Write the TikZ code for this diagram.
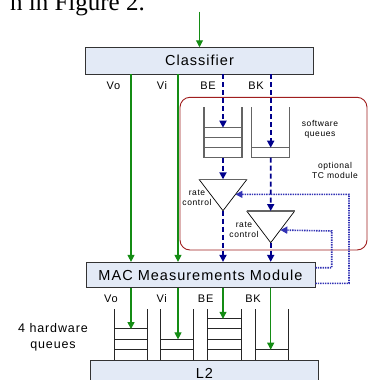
\documentclass[tikz,border=0pt]{standalone}
\usepackage{fontspec}
\newfontfamily\lblfont[LetterSpace=7]{Liberation Sans}
\newfontfamily\paperfont{Liberation Serif}
\usetikzlibrary{arrows.meta, calc}

\definecolor{boxblue}{RGB}{227,234,246}
\definecolor{flowgreen}{RGB}{20,140,20}
\definecolor{tcnavy}{RGB}{0,0,140}
\definecolor{fbblue}{RGB}{50,50,180}
\definecolor{tcred}{RGB}{160,30,30}
\definecolor{qgray}{RGB}{100,100,100}

\begin{document}
\begin{tikzpicture}[
    x=1pt, y=-1pt, % one unit = one pixel, y grows downwards
    >={Triangle[length=7pt,width=7pt]}, % Set default arrow tip style
    block/.style={draw=black!80, fill=boxblue, line width=0.8pt, inner sep=0pt, font=\lblfont\fontsize{14.5}{16}\selectfont}, % Style for the wide boxes
    green flow/.style={->, flowgreen, line width=1.1pt}, % Style for the plain flows
    tc flow/.style={->, tcnavy, line width=1.8pt, dash pattern=on 5pt off 3pt}, % Style for the shaped flows
    feedback/.style={->, fbblue, line width=1.6pt, dash pattern=on 1.4pt off 1pt}, % Style for the feedback lines
    queue/.style={qgray, line width=1.3pt}, % Style for software queue walls and slots
    hwqueue/.style={black!85, line width=0.9pt}, % Style for hardware queue walls and slots
    tag/.style={font=\lblfont\fontsize{11}{13}\selectfont}, % Style for the Vo/Vi/BE/BK labels
    note/.style={font=\lblfont\fontsize{8.5}{10}\selectfont, align=center} % Style for the small notes
]
    \useasboundingbox (0,0) rectangle (368,380);

    % Text of the page above the figure
    \node[font=\paperfont\fontsize{25}{28}\selectfont, anchor=base east, inner sep=0pt] (pagetext) at (145,10.7) {n in Figure 2.};

    % Boxes
    \node[block, minimum width=227.6pt, minimum height=26.3pt] (cls) at (199.5,60.8) {Classifier};
    \node[block, minimum width=229pt, minimum height=25.4pt] (mac) at (200.5,275) {MAC Measurements Module};
    \node[block, minimum width=227.6pt, minimum height=26pt] (l2) at (204.5,373) {L2};

    % Column positions
    \coordinate (in) at (199.5,11.7);
    \coordinate (xvo) at (131,0);
    \coordinate (xvi) at (178,0);
    \coordinate (xbe) at (223,0);
    \coordinate (xbk) at (270.7,0);

    % Optional TC module frame
    \draw[tcred, line width=0.9pt, rounded corners=10pt] (180,97.3) rectangle (367,250);
    \node[note] (swnote) at (320,129.5) {software\\queues};
    \node[note] (tcnote) at (335,170) {optional\\TC module};

    % Software queues
    \foreach \cx/\n in {223/4, 270.7/2} {
        \draw[queue] (\cx-19,107.3) -- (\cx-19,157.7) (\cx+19,107.3) -- (\cx+19,157.7);
        \foreach \k in {1,...,\n} \draw[queue] (\cx-19,167.7-10*\k) -- (\cx+19,167.7-10*\k);
    }
    \coordinate (sqbe) at (223,127.7);   % top slot of BE queue
    \coordinate (sqbeb) at (223,157.7);  % bottom of BE queue
    \coordinate (sqbk) at (270.7,147.7); % top slot of BK queue
    \coordinate (sqbkb) at (270.7,157.7);

    % Rate control triangles
    \coordinate (t1l) at (199,179.3); \coordinate (t1r) at (247,179.3); \coordinate (t1a) at (223,210.7);
    \coordinate (t2l) at (246.7,211); \coordinate (t2r) at (294.7,211); \coordinate (t2a) at (270.7,242.7);
    \draw[line width=0.7pt] (t1r) -- (t1a) -- (t1l);
    \draw[queue] (t1l) -- (t1r);
    \draw[line width=0.7pt] (t2r) -- (t2a) -- (t2l);
    \draw[queue] (t2l) -- (t2r);
    \coordinate (t1e) at ($(t1r)!0.48!(t1a)$); % feedback entry on triangle 1
    \coordinate (t2e) at ($(t2r)!0.6!(t2a)$);  % feedback entry on triangle 2
    \node[note] (rc1) at (197,197.5) {rate\\control};
    \node[note] (rc2) at (244,230) {rate\\control};

    % Labels under the classifier
    \node[tag] (vo1) at (113.5,85.3) {Vo};
    \node[tag] (vi1) at (162,85.3) {Vi};
    \node[tag] (be1) at (208,85.3) {BE};
    \node[tag] (bk1) at (256,85.3) {BK};

    % Flows
    \draw[green flow] (in) -- (cls.north);
    \draw[green flow] (cls.south -| xvo) -- (mac.north -| xvo);
    \draw[green flow] (cls.south -| xvi) -- (mac.north -| xvi);
    \draw[tc flow] (cls.south -| xbe) -- (sqbe);
    \draw[tc flow] (cls.south -| xbk) -- (sqbk);
    \draw[tc flow] (sqbeb) -- ($(t1l)!0.5!(t1r)$);
    \draw[tc flow] (sqbkb) -- ($(t2l)!0.5!(t2r)$);
    \draw[tc flow] (t1a) -- (mac.north -| t1a);
    \draw[tc flow] (t2a) -- (mac.north -| t2a);

    % Feedback from the measurements module
    \coordinate (fb1) at (349,194.3);
    \coordinate (fb2) at (331.7,231);
    \draw[feedback] ([yshift=-8.3pt]mac.east) -| (fb1) -- (t1e);
    \draw[feedback] ([yshift=7.3pt]mac.east) -| (fb2) -- (t2e);

    % Labels under the measurements module
    \node[tag] (vo2) at (111,299) {Vo};
    \node[tag] (vi2) at (161.7,299) {Vi};
    \node[tag] (be2) at (205.7,299) {BE};
    \node[tag] (bk2) at (253,299) {BK};
    \node[font=\lblfont\fontsize{12.5}{15.5}\selectfont, align=center] (hwnote) at (53,337.5) {4 hardware\\queues};

    % Hardware queues
    \foreach \col/\cx/\n in {xvo/131/3, xvi/177/2, xbe/224.3/4, xbk/271.7/1} {
        \draw[hwqueue] (\cx-16.7,309.3) -- (\cx-16.7,360) (\cx+16.7,309.3) -- (\cx+16.7,360);
        \foreach \k in {1,...,\n} \draw[hwqueue] (\cx-16.7,359.6-10.3*\k) -- (\cx+16.7,359.6-10.3*\k);
        \draw[green flow] (mac.south -| \col) -- ++(0,{359.6-10.3*\n-287.7});
    }

\end{tikzpicture}
\end{document}
